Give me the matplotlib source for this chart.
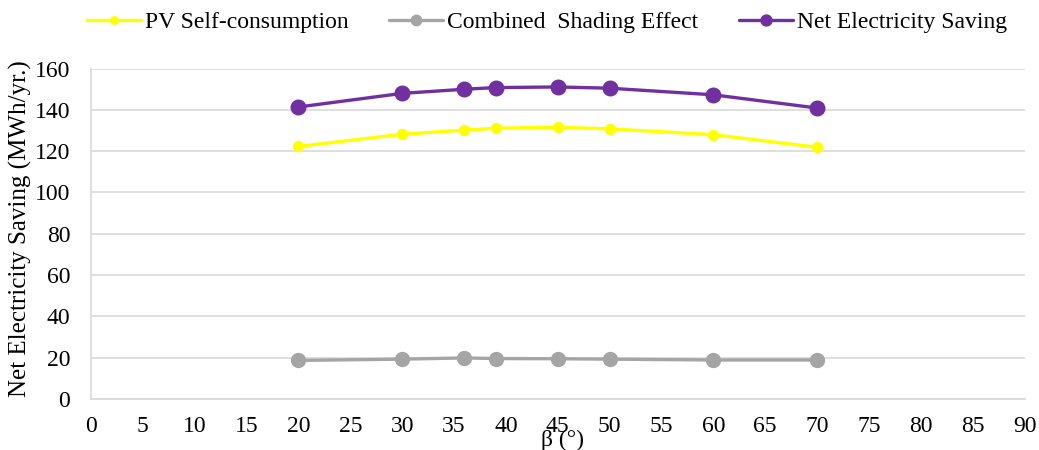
import matplotlib
matplotlib.use("Agg")
import matplotlib.pyplot as plt

plt.rcParams['font.family'] = ['Liberation Serif', 'DejaVu Serif']

# tilt angle (deg)
beta = [20, 30, 36, 39, 45, 50, 60, 70]
pv_self = [122.3, 128.2, 130.2, 131.1, 131.6, 130.8, 128.0, 121.9]
shading = [18.7, 19.3, 19.9, 19.6, 19.5, 19.3, 18.9, 18.9]
net_saving = [141.4, 148.0, 150.0, 150.8, 151.1, 150.5, 147.3, 140.9]

x_ticks = list(range(0, 91, 5))
y_ticks = list(range(0, 161, 20))

fig = plt.figure(figsize=(10.39, 4.5), dpi=100)
ax = fig.add_axes([0.0876, 0.1133, 0.8985, 0.7343])

ax.plot(beta, pv_self, color='#FFFF00', lw=2.4, marker='o', ms=7.2,
        label='PV Self-consumption', solid_capstyle='round')
ax.plot(beta, shading, color='#A5A5A5', lw=2.4, marker='o', ms=10,
        label='Combined  Shading Effect', solid_capstyle='round')
ax.plot(beta, net_saving, color='#7030A0', lw=2.4, marker='o', ms=10.5,
        label='Net Electricity Saving', solid_capstyle='round')

ax.set_xlim(0, 90)
ax.set_ylim(0, 160)
ax.set_xticks(x_ticks)
ax.set_yticks(y_ticks)
ax.tick_params(length=0, labelsize=17)
ax.tick_params(axis='x', pad=12)
ax.tick_params(axis='y', pad=15)
ax.grid(axis='y', color='#D9D9D9', lw=1.2)
ax.set_axisbelow(True)
for s in ['top', 'right']:
    ax.spines[s].set_visible(False)
for s in ['left', 'bottom']:
    ax.spines[s].set_color('#D9D9D9')
    ax.spines[s].set_linewidth(1.2)

ax.set_xlabel('β (°)', fontsize=17, va='center')
ax.xaxis.set_label_coords(0.505, -0.124)
ax.set_ylabel('Net Electricity Saving (MWh/yr.)', fontsize=18, va='center')
ax.yaxis.set_label_coords(-0.076, 0.517)

fig.legend(loc='center left', bbox_to_anchor=(87 / 1039, 1 - 22 / 450), ncol=3,
           frameon=False, fontsize=17, handlelength=2.3, handletextpad=0.17,
           columnspacing=1.7, markerscale=0.75, borderpad=0, borderaxespad=0)

fig.savefig('out.png', dpi=100)
